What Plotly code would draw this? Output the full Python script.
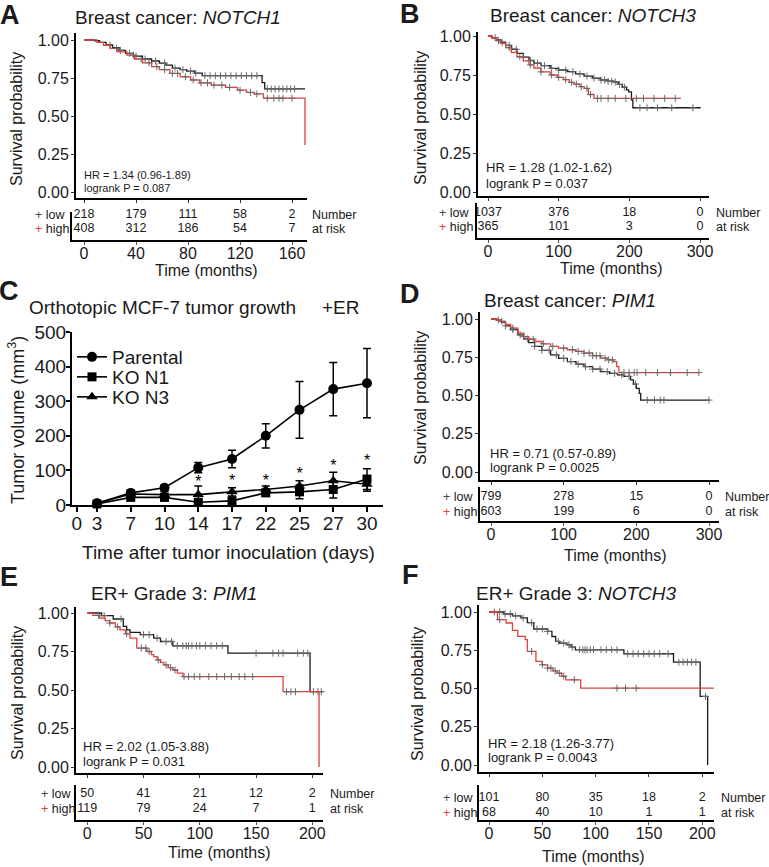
import plotly.graph_objects as go

W, H = 769, 867
FONT = "Liberation Sans, Arial, sans-serif"
LOW_C = "#1a1a1a"
HIGH_C = "#e0413c"
CENS_C = "#6a6a6a"
TAB_FS = 12.5

# ---------------- Data ----------------
# Panel A: Breast cancer NOTCH1
A_low_t = [0, 8, 12, 17, 22, 27, 32, 38, 45, 52, 58, 63, 68, 74, 79, 85, 91, 137, 139, 170]
A_low_s = [1.0, 0.995, 0.985, 0.967, 0.95, 0.932, 0.912, 0.893, 0.875, 0.862, 0.848, 0.835,
           0.815, 0.805, 0.795, 0.782, 0.765, 0.72, 0.678, 0.678]
A_high_t = [0, 10, 15, 20, 26, 33, 39, 45, 52, 58, 66, 74, 82, 89, 98, 109, 118, 125, 131, 138, 170, 170]
A_high_s = [1.0, 0.985, 0.965, 0.945, 0.922, 0.90, 0.875, 0.85, 0.825, 0.805, 0.78, 0.758, 0.737,
            0.718, 0.703, 0.688, 0.67, 0.655, 0.645, 0.617, 0.617, 0.31]
A_low_cens = [20, 28, 35, 40, 47, 55, 62, 70, 76, 82, 86, 93, 97, 101, 105, 109, 113, 117, 121,
              125, 129, 133, 141, 144, 147, 150, 153, 156, 159, 162]
A_high_cens = [25, 38, 44, 50, 56, 62, 68, 72, 78, 84, 90, 95, 100, 106, 112, 120, 128, 133,
               141, 146, 150, 153, 160]
A_risk_t = [0, 40, 80, 120, 160]
A_risk_low = [218, 179, 111, 58, 2]
A_risk_high = [408, 312, 186, 54, 7]

# Panel B: Breast cancer NOTCH3
B_low_t = [0, 5, 12, 18, 25, 33, 41, 50, 58, 65, 75, 88, 100, 112, 124, 136, 148, 159, 170, 178,
           184, 190, 196, 199, 203, 205, 301]
B_low_s = [1.0, 0.99, 0.975, 0.96, 0.94, 0.915, 0.889, 0.865, 0.843, 0.826, 0.81, 0.793, 0.782,
           0.771, 0.757, 0.743, 0.73, 0.718, 0.71, 0.705, 0.69, 0.672, 0.655, 0.642, 0.59, 0.54, 0.54]
B_high_t = [0, 6, 12, 18, 25, 33, 41, 50, 58, 65, 75, 88, 98, 107, 115, 121, 130, 136, 142, 150, 273]
B_high_s = [1.0, 0.985, 0.97, 0.953, 0.925, 0.895, 0.867, 0.84, 0.815, 0.795, 0.77, 0.75, 0.735,
            0.72, 0.703, 0.692, 0.675, 0.664, 0.625, 0.60, 0.60]
B_low_cens = [10, 20, 30, 40, 50, 60, 70, 80, 90, 100, 110, 120, 130, 140, 150, 160, 165, 170,
              175, 180, 186, 193, 215, 225, 240, 260, 290]
B_high_cens = [15, 30, 45, 60, 75, 90, 100, 110, 118, 125, 132, 140, 145, 155, 160, 170, 180,
               195, 210, 220, 235, 250, 265]
B_risk_t = [0, 100, 200, 300]
B_risk_low = [1037, 376, 18, 0]
B_risk_high = [365, 101, 3, 0]

# Panel C: Orthotopic MCF-7 tumor growth
C_days = [3, 7, 10, 14, 17, 22, 25, 27, 30]
C_parental = [5, 35, 50, 108, 133, 200, 275, 335, 352]
C_parental_err = [4, 8, 8, 15, 25, 35, 82, 77, 100]
C_kon1 = [3, 22, 22, 8, 12, 35, 38, 45, 75]
C_kon1_err = [3, 8, 10, 10, 10, 10, 20, 25, 30]
C_kon3 = [5, 32, 30, 30, 38, 45, 55, 70, 60]
C_kon3_err = [3, 8, 8, 25, 12, 10, 15, 25, 20]
C_sig_days = [14, 17, 22, 25, 27, 30]
C_sig_y = [63, 66, 66, 87, 110, 125]
C_yticks = [0, 100, 200, 300, 400, 500]

# Panel D: Breast cancer PIM1
D_low_t = [0, 8, 14, 20, 27, 37, 45, 52, 60, 70, 82, 93, 105, 117, 128, 140, 151, 163, 174, 183,
           192, 196, 200, 204, 206, 300]
D_low_s = [1.0, 0.993, 0.98, 0.955, 0.93, 0.897, 0.87, 0.845, 0.821, 0.795, 0.766, 0.743, 0.722,
           0.705, 0.689, 0.672, 0.656, 0.645, 0.635, 0.625, 0.602, 0.575, 0.547, 0.514, 0.47, 0.47]
D_high_t = [0, 8, 14, 20, 27, 37, 45, 52, 60, 70, 82, 93, 105, 117, 128, 140, 151, 160, 169, 173,
            176, 286]
D_high_s = [1.0, 0.993, 0.985, 0.965, 0.94, 0.908, 0.885, 0.868, 0.853, 0.838, 0.821, 0.81, 0.799,
            0.788, 0.777, 0.76, 0.744, 0.733, 0.722, 0.689, 0.65, 0.65]
D_low_cens = [10, 20, 30, 40, 50, 60, 70, 80, 90, 100, 110, 120, 130, 140, 150, 160, 170, 180,
              190, 199, 215, 225, 233, 238, 300]
D_high_cens = [15, 30, 45, 58, 72, 85, 100, 112, 120, 128, 135, 140, 145, 150, 157, 162, 167,
               183, 190, 197, 201, 213, 229, 247, 270, 286]
D_risk_t = [0, 100, 200, 300]
D_risk_low = [799, 278, 15, 0]
D_risk_high = [603, 199, 6, 0]

# Panel E: ER+ Grade 3 PIM1
E_low_t = [0, 12.7, 23, 32, 35, 38, 47, 59, 65, 76, 125, 198, 210]
E_low_s = [1.0, 0.983, 0.961, 0.913, 0.891, 0.874, 0.859, 0.837, 0.815, 0.787, 0.739, 0.489, 0.489]
E_high_t = [0, 5, 11, 16, 20, 25, 29, 34, 38, 44, 53, 57, 59, 62, 65, 68, 72, 76, 80, 85, 174, 206]
E_high_s = [1.0, 0.985, 0.967, 0.95, 0.935, 0.91, 0.891, 0.865, 0.837, 0.772, 0.75, 0.73, 0.717,
            0.695, 0.68, 0.663, 0.645, 0.63, 0.61, 0.587, 0.489, 0.0]
E_low_cens = [15, 30, 50, 55, 62, 70, 75, 80, 85, 88, 90, 93, 97, 100, 105, 110, 115, 120, 150,
              165, 170, 174, 187, 192, 196, 201, 205, 208]
E_high_cens = [10, 20, 27, 35, 48, 52, 55, 63, 70, 74, 78, 86, 90, 95, 100, 108, 115, 122, 128,
               135, 140, 147, 177, 181, 185]
E_risk_t = [0, 50, 100, 150, 200]
E_risk_low = [50, 41, 21, 12, 2]
E_risk_high = [119, 79, 24, 7, 1]

# Panel F: ER+ Grade 3 NOTCH3
F_low_t = [0, 14, 22, 30, 36, 42, 55, 59, 62.5, 66, 73, 77, 81, 126.5, 173, 198, 205]
F_low_s = [1.0, 0.987, 0.975, 0.961, 0.93, 0.889, 0.873, 0.84, 0.808, 0.797, 0.786, 0.77, 0.753,
           0.727, 0.672, 0.448, 0.0]
F_high_t = [0, 8, 16, 22, 27, 34, 36, 44, 50, 55, 60, 64, 68, 72, 86, 213]
F_high_s = [1.0, 0.95, 0.928, 0.88, 0.841, 0.819, 0.742, 0.677, 0.655, 0.633, 0.615, 0.60, 0.58,
            0.557, 0.502, 0.502]
F_low_cens = [5, 10, 15, 20, 25, 32, 40, 45, 50, 55, 65, 70, 75, 78, 85, 88, 90, 92, 95, 98, 105,
              110, 115, 120, 130, 135, 140, 145, 150, 155, 160, 168, 178, 182, 186, 190, 194, 203]
F_high_cens = [10, 40, 50, 55, 58, 62, 66, 70, 80, 120, 128, 138]
F_risk_t = [0, 50, 100, 150, 200]
F_risk_low = [101, 80, 35, 18, 2]
F_risk_high = [68, 40, 10, 1, 1]

Y_TICKS = [0, 0.25, 0.5, 0.75, 1.0]
Y_TICKTEXT = ["0.00", "0.25", "0.50", "0.75", "1.00"]


# ---------------- helpers ----------------
def xdom(l, r):
    return [l / W, r / W]


def ydom(t, b):
    return [1 - b / H, 1 - t / H]


def lin_range(p0, p1, v0, v1, lo, hi):
    scale = (p1 - p0) / (v1 - v0)
    return [v0 + (lo - p0) / scale, v0 + (hi - p0) / scale]


def step_at(ts, ss, t):
    v = ss[0]
    for ti, si in zip(ts, ss):
        if ti <= t:
            v = si
        else:
            break
    return v


annotations = []


def ann(text, x, y, size, xanchor="center", yanchor="middle", color="#1a1a1a", angle=0):
    annotations.append(dict(text=text, x=x / W, y=1 - y / H, xref="paper", yref="paper",
                            showarrow=False, xanchor=xanchor, yanchor=yanchor, textangle=angle,
                            font=dict(size=size, color=color, family=FONT)))


fig = go.Figure()
layout = {}

panels = [
    dict(key="A", low=(A_low_t, A_low_s, A_low_cens), high=(A_high_t, A_high_s, A_high_cens),
         risk=(A_risk_t, A_risk_low, A_risk_high),
         main_x=(76, 307), main_y=(33, 198), xcal=(84, 292, 0, 160), ycal=(40, 192),
         tab_x=(72, 307), tab_y=(212, 240), rows=(215, 229),
         title="Breast cancer: <i>NOTCH1</i>", title_xy=(178, 17),
         hr="HR = 1.34 (0.96-1.89)", p="logrank P = 0.087", hr_xy=(82, 175, 188), hr_size=11,
         plus_x=33, num_x=310, letter="A", letter_xy=(10, 15), ylab_xy=(17, 119), xlab_xy=(207, 270)),
    dict(key="B", low=(B_low_t, B_low_s, B_low_cens), high=(B_high_t, B_high_s, B_high_cens),
         risk=(B_risk_t, B_risk_low, B_risk_high),
         main_x=(478, 709), main_y=(32, 196), xcal=(488, 700, 0, 300), ycal=(36, 192),
         tab_x=(477, 709), tab_y=(203, 238), rows=(213, 227),
         title="Breast cancer: <i>NOTCH3</i>", title_xy=(593, 15),
         hr="HR = 1.28 (1.02-1.62)", p="logrank P = 0.037", hr_xy=(484, 168, 183), hr_size=13,
         plus_x=437, num_x=714, letter="B", letter_xy=(410, 14), ylab_xy=(420, 118), xlab_xy=(611, 268)),
    dict(key="D", low=(D_low_t, D_low_s, D_low_cens), high=(D_high_t, D_high_s, D_high_cens),
         risk=(D_risk_t, D_risk_low, D_risk_high),
         main_x=(480, 719), main_y=(312, 480), xcal=(491, 709, 0, 300), ycal=(319, 472),
         tab_x=(480, 719), tab_y=(487, 521), rows=(497, 512),
         title="Breast cancer: <i>PIM1</i>", title_xy=(570, 300),
         hr="HR = 0.71 (0.57-0.89)", p="logrank P = 0.0025", hr_xy=(488, 453, 467), hr_size=13,
         plus_x=441, num_x=723, letter="D", letter_xy=(410, 294), ylab_xy=(420, 398), xlab_xy=(615, 555)),
    dict(key="E", low=(E_low_t, E_low_s, E_low_cens), high=(E_high_t, E_high_s, E_high_cens),
         risk=(E_risk_t, E_risk_low, E_risk_high),
         main_x=(76, 323), main_y=(607, 773), xcal=(87.3, 312.3, 0, 200), ycal=(613, 767),
         tab_x=(76, 323), tab_y=(785, 820), rows=(794, 809),
         title="ER+ Grade 3: <i>PIM1</i>", title_xy=(174, 593),
         hr="HR = 2.02 (1.05-3.88)", p="logrank P = 0.031", hr_xy=(81, 746, 761), hr_size=13,
         plus_x=39, num_x=328, letter="E", letter_xy=(9, 577), ylab_xy=(17, 693), xlab_xy=(219, 852)),
    dict(key="F", low=(F_low_t, F_low_s, F_low_cens), high=(F_high_t, F_high_s, F_high_cens),
         risk=(F_risk_t, F_risk_low, F_risk_high),
         main_x=(479, 714), main_y=(605, 772), xcal=(489, 702.3, 0, 200), ycal=(612, 765),
         tab_x=(479, 714), tab_y=(785, 820), rows=(798, 813),
         title="ER+ Grade 3: <i>NOTCH3</i>", title_xy=(576, 593),
         hr="HR = 2.18 (1.26-3.77)", p="logrank P = 0.0043", hr_xy=(486, 743, 757), hr_size=13,
         plus_x=441, num_x=719, letter="F", letter_xy=(410, 575), ylab_xy=(417, 694), xlab_xy=(593, 856)),
]

ax_i = 1


def axname(i, kind):
    return kind + ("axis" if i == 1 else "axis%d" % i)


def ref(i, kind):
    return kind if i == 1 else "%s%d" % (kind, i)


for P in panels:
    m = ax_i
    t = ax_i + 1
    ax_i += 2
    # --- main KM plot ---
    for (ts, ss, cens), col, ccol in ((P["low"], LOW_C, CENS_C), (P["high"], HIGH_C, CENS_C)):
        fig.add_trace(go.Scatter(x=ts, y=ss, mode="lines", line=dict(color=col, width=1.3, shape="hv"),
                                 xaxis=ref(m, "x"), yaxis=ref(m, "y"), showlegend=False,
                                 hoverinfo="skip", cliponaxis=False))
        fig.add_trace(go.Scatter(x=cens, y=[step_at(ts, ss, c) for c in cens], mode="markers",
                                 marker=dict(symbol="cross-thin", size=5, line=dict(width=1, color=ccol)),
                                 xaxis=ref(m, "x"), yaxis=ref(m, "y"), showlegend=False,
                                 hoverinfo="skip", cliponaxis=False))
    x0p, x1p, v0, v1 = P["xcal"]
    rt, rlow, rhigh = P["risk"]
    layout[axname(m, "x")] = dict(domain=xdom(*P["main_x"]), anchor=ref(m, "y"), automargin=False,
                                  range=lin_range(x0p, x1p, v0, v1, *P["main_x"]),
                                  showline=True, linewidth=2, linecolor="black", mirror=False,
                                  ticks="outside", ticklen=3, tickwidth=1, tickcolor="#333",
                                  tickvals=rt, showticklabels=False, showgrid=False, zeroline=False)
    yt, yb = P["main_y"]
    y1p, y0p = P["ycal"]
    sc = (y0p - y1p)
    layout[axname(m, "y")] = dict(domain=ydom(yt, yb), anchor=ref(m, "x"), automargin=False,
                                  range=[(y0p - yb) / sc, (y0p - yt) / sc],
                                  showline=True, linewidth=2, linecolor="black",
                                  ticks="outside", ticklen=3, tickwidth=1, tickcolor="#333",
                                  tickvals=Y_TICKS, ticktext=Y_TICKTEXT, ticklabelstandoff=-1,
                                  tickfont=dict(size=16, color="#1a1a1a", family=FONT),
                                  showgrid=False, zeroline=False)
    # --- risk table ---
    for counts, rowv in ((rlow, 1), (rhigh, 0)):
        fig.add_trace(go.Scatter(x=rt, y=[rowv] * len(rt), mode="text", text=[str(c) for c in counts],
                                 textposition="middle center",
                                 textfont=dict(size=TAB_FS, color="#1a1a1a", family=FONT),
                                 xaxis=ref(t, "x"), yaxis=ref(t, "y"), showlegend=False,
                                 hoverinfo="skip", cliponaxis=False))
    layout[axname(t, "x")] = dict(domain=xdom(*P["tab_x"]), anchor=ref(t, "y"), automargin=False,
                                  range=lin_range(x0p, x1p, v0, v1, *P["tab_x"]),
                                  showline=True, linewidth=2, linecolor="black",
                                  ticks="outside", ticklen=3, tickwidth=1, tickcolor="#555",
                                  tickvals=rt, ticktext=[str(v) for v in rt], ticklabelstandoff=-5,
                                  tickfont=dict(size=16, color="#1a1a1a", family=FONT),
                                  showgrid=False, zeroline=False)
    tt, tb = P["tab_y"]
    rl, rh = P["rows"]
    rs = rh - rl
    layout[axname(t, "y")] = dict(domain=ydom(tt, tb), anchor=ref(t, "x"), automargin=False,
                                  range=[(rh - tb) / rs, (rh - tt) / rs],
                                  showline=True, linewidth=2, linecolor="black",
                                  showticklabels=False, ticks="", showgrid=False, zeroline=False)
    # --- texts ---
    ann(P["title"], P["title_xy"][0], P["title_xy"][1], 19)
    hx, hy1, hy2 = P["hr_xy"]
    ann(P["hr"], hx, hy1, P["hr_size"], xanchor="left")
    ann(P["p"], hx, hy2, P["hr_size"], xanchor="left")
    ann('<span style="color:%s">+</span> low' % "#444", P["plus_x"], rl, TAB_FS, xanchor="left")
    ann('<span style="color:%s">+</span> high' % HIGH_C, P["plus_x"], rh, TAB_FS, xanchor="left")
    ann("Number", P["num_x"], rl, TAB_FS, xanchor="left")
    ann("at risk", P["num_x"], rh, TAB_FS, xanchor="left")
    ann("<b>%s</b>" % P["letter"], P["letter_xy"][0], P["letter_xy"][1], 27)
    ann("Survival probability", P["ylab_xy"][0], P["ylab_xy"][1], 16, angle=-90)
    ann("Time (months)", P["xlab_xy"][0], P["xlab_xy"][1], 16)

# ---------------- Panel C ----------------
c = ax_i
pos = [i + 1 for i in range(len(C_days))]
series = [("Parental", C_parental, C_parental_err, "circle", 10, "legend", 357),
          ("KO N1", C_kon1, C_kon1_err, "square", 9, "legend2", 377),
          ("KO N3", C_kon3, C_kon3_err, "triangle-up", 10, "legend3", 397)]
legends = {}
for name, vals, errs, sym, sz, leg, ly in series:
    fig.add_trace(go.Scatter(x=pos, y=vals, name=name, mode="lines+markers",
                             line=dict(color="black", width=1.6),
                             marker=dict(symbol=sym, size=sz, color="black"),
                             error_y=dict(type="data", array=errs, color="black", thickness=1.5, width=4),
                             xaxis=ref(c, "x"), yaxis=ref(c, "y"), cliponaxis=False, hoverinfo="skip",
                             legend=leg, showlegend=True))
    legends[leg] = dict(x=72 / W, y=1 - ly / H, xanchor="left", yanchor="middle",
                        font=dict(size=19, family=FONT, color="#1a1a1a"),
                        bgcolor="rgba(0,0,0,0)", itemwidth=30, borderwidth=0)
fig.add_trace(go.Scatter(x=[pos[C_days.index(d)] for d in C_sig_days], y=C_sig_y, mode="text",
                         text=["*"] * len(C_sig_days), textposition="middle center",
                         textfont=dict(size=16, color="black", family=FONT),
                         xaxis=ref(c, "x"), yaxis=ref(c, "y"), showlegend=False, cliponaxis=False,
                         hoverinfo="skip"))
layout[axname(c, "x")] = dict(domain=xdom(72, 383), anchor=ref(c, "y"), automargin=False,
                              range=lin_range(97, 367, 1, 9, 72, 383),
                              showline=True, linewidth=2, linecolor="black",
                              ticks="outside", ticklen=5, tickwidth=2, tickcolor="black",
                              tickvals=[0.4] + pos, ticktext=["0"] + [str(d) for d in C_days],
                              ticklabelstandoff=-5,
                              tickfont=dict(size=19, color="#1a1a1a", family=FONT),
                              showgrid=False, zeroline=False)
layout[axname(c, "y")] = dict(domain=ydom(332, 505), anchor=ref(c, "x"), range=[0, 500], automargin=False,
                              showline=True, linewidth=2, linecolor="black",
                              ticks="outside", ticklen=4, tickwidth=2, tickcolor="black",
                              tickvals=C_yticks, ticklabelstandoff=-4,
                              tickfont=dict(size=19, color="#1a1a1a", family=FONT),
                              showgrid=False, zeroline=False)
ann("<b>C</b>", 9, 291, 27)
ann("Orthotopic MCF-7 tumor growth", 27, 308, 19, xanchor="left")
ann("+ER", 320, 308, 19, xanchor="left")
ann("Time after tumor inoculation (days)", 228, 552, 19)
ann("Tumor volume (mm<sup>3</sup>)", 16, 420, 18, angle=-90)

fig.update_layout(
    template="none",
    width=W, height=H, margin=dict(l=0, r=0, t=0, b=0, pad=0, autoexpand=False),
    paper_bgcolor="white", plot_bgcolor="white",
    font=dict(family=FONT, color="#1a1a1a"),
    annotations=annotations,
    **legends,
    **layout,
)

fig.write_html("out.html", config={"displayModeBar": False, "staticPlot": True},
               post_script="document.body.style.margin='0px';document.body.style.overflow='hidden';")
